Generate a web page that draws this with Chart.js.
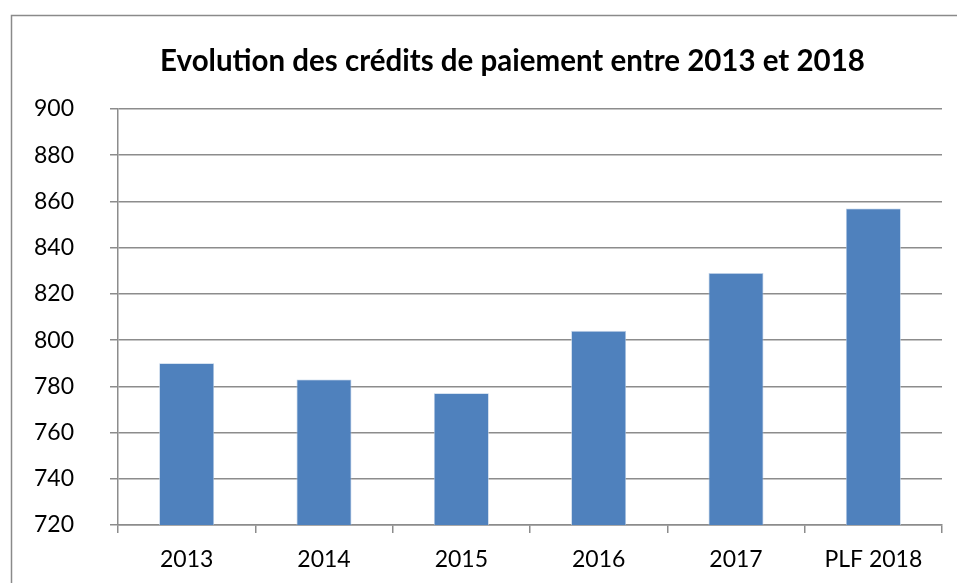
<!DOCTYPE html>
<html>
<head>
<meta charset="utf-8">
<script src="https://cdn.jsdelivr.net/npm/chart.js@4/dist/chart.umd.min.js"></script>
<style>
  html, body { margin: 0; padding: 0; background: #fff; }
  #wrap { width: 957px; height: 583px; position: relative; }
</style>
</head>
<body>
<div id="wrap"><canvas id="c" width="957" height="583"></canvas></div>
<script>
const categories = ["2013", "2014", "2015", "2016", "2017", "PLF 2018"];
const credits = [790, 783, 777, 804, 829, 857];
const yMin = 720, yMax = 900, yStep = 20;
const titleText = "Evolution des crédits de paiement entre 2013 et 2018";

const frame = {
  id: 'frame',
  beforeDraw(chart) {
    const ctx = chart.ctx;
    ctx.save();
    ctx.fillStyle = '#ffffff';
    ctx.fillRect(0, 0, chart.width, chart.height);
    ctx.strokeStyle = '#8a8a8a';
    ctx.lineWidth = 1.5;
    ctx.strokeRect(11.5, 15.5, chart.width + 20, chart.height + 20);
    ctx.restore();
  },
  afterDraw(chart) {
    const ctx = chart.ctx;
    ctx.save();
    ctx.fillStyle = '#000';
    ctx.font = 'bold 29.5px Lato';
    ctx.textAlign = 'center';
    ctx.textBaseline = 'alphabetic';
    ctx.fillText(titleText, 512.5, 71);
    ctx.restore();
  }
};

const gridCol = '#8c8c8c';
new Chart(document.getElementById('c'), {
  type: 'bar',
  data: {
    labels: categories,
    datasets: [{
      data: credits,
      backgroundColor: '#4F81BD',
      borderColor: '#b9cde5',
      borderWidth: 0.8,
      barPercentage: 0.4,
      categoryPercentage: 1.0
    }]
  },
  plugins: [frame],
  options: {
    responsive: false,
    animation: false,
    layout: { padding: { left: 0, right: 15, top: 109, bottom: 0 } },
    plugins: {
      legend: { display: false },
      tooltip: { enabled: false },
      title: { display: false }
    },
    scales: {
      x: {
        grid: { drawOnChartArea: false, drawTicks: true, tickLength: 8, color: gridCol, lineWidth: 1.5, offset: true },
        border: { color: gridCol, width: 1.5 },
        ticks: { color: '#000', font: { family: 'Lato', size: 23 }, padding: 13, maxRotation: 0 },
        afterFit(scale) { scale.height = 58; }
      },
      y: {
        min: yMin, max: yMax,
        grid: { color: gridCol, lineWidth: 1.5, tickLength: 8 },
        border: { color: gridCol, width: 1.5 },
        ticks: { stepSize: yStep, color: '#000', font: { family: 'Lato', size: 23 }, padding: 36 },
        afterFit(scale) { scale.width = 118; }
      }
    }
  }
});
</script>
</body>
</html>
